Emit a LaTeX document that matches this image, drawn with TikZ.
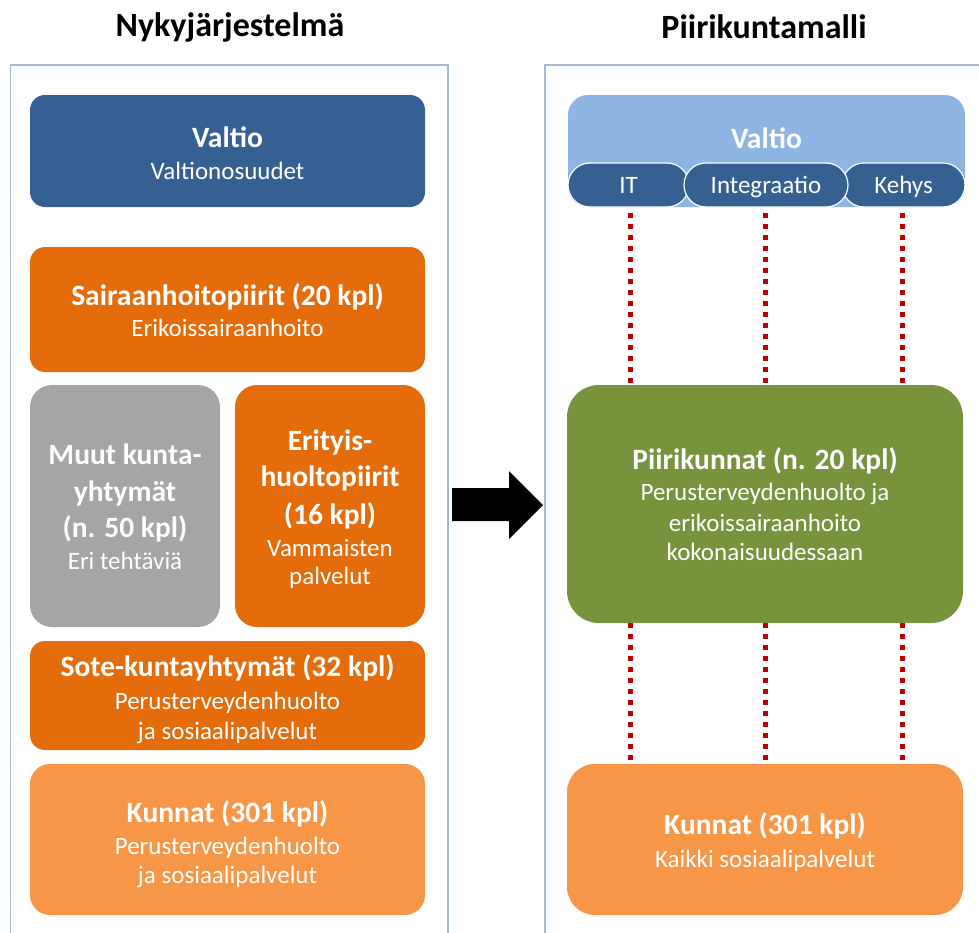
\documentclass[tikz,border=0pt]{standalone}
\usepackage{fontspec}
\setmainfont{Carlito}
\definecolor{dkblue}{HTML}{376092}
\definecolor{ltblue}{HTML}{8EB4E3}
\definecolor{orng}{HTML}{E46C0A}
\definecolor{ltorng}{HTML}{F79646}
\definecolor{grey}{HTML}{A5A5A5}
\definecolor{grn}{HTML}{77933C}
\definecolor{dotred}{HTML}{C00000}
\definecolor{panel}{HTML}{AAB9D2}
\newcommand\hb{\bfseries\fontsize{29.5}{30}\selectfont}
\newcommand\hs{\mdseries\fontsize{25}{30}\selectfont}
\newcommand\lift[1]{\rule{0pt}{#1pt}}
\newcommand\tabstrut{\rule[-6pt]{0pt}{28pt}}
\begin{document}
\begin{tikzpicture}[x=1pt,y=-1pt,
  box/.style={rounded corners=#1, text=white, align=center, inner sep=0pt,
    font=\fontsize{25}{30}\selectfont},
  box/.default=15pt,
  tab/.style={rounded corners=22pt, fill=dkblue, draw=white, line width=1.2pt,
    minimum height=44pt, inner sep=0pt, text=white, font=\fontsize{25}{30}\selectfont},
  heading/.style={font=\bfseries\fontsize{34}{40}\selectfont, inner sep=0pt},
  panelline/.style={draw=panel, line width=1.3pt},
  dots/.style={draw=dotred, line width=5pt, dash pattern=on 5pt off 6pt}]
\useasboundingbox (0,0) rectangle (979,932);

% headings
\node[heading] (h1) at (230,27) {Nykyjärjestelmä};
\node[heading] (h2) at (764,27) {Piirikuntamalli};

% panels
\draw[panelline] (10.5,940) -- (10.5,65) -- (448,65) -- (448,940);
\draw[panelline] (545,940) -- (545,65) -- (990,65);

% left column
\node[box, fill=dkblue, minimum width=395pt, minimum height=112pt] (valtioL) at (227.5,151)
  {\hb\lift{26}Valtio\\[2pt] \hs Valtionosuudet};
\node[box, fill=orng, minimum width=395pt, minimum height=125pt] (sair) at (227.5,309.5)
  {\hb\lift{24}Sairaanhoitopiirit (20 kpl)\\[1pt] \hs Erikoissairaanhoito};
\node[box=22pt, fill=grey, minimum width=190pt, minimum height=242pt] (muut) at (125,506)
  {\hb\lift{23}Muut kunta-\\[7pt] \hb yhtymät\\[6pt] \hb (n. 50 kpl)\\[2pt] \hs Eri tehtäviä};
\node[box=22pt, fill=orng, minimum width=190pt, minimum height=242pt] (erit) at (330,506)
  {\hb\lift{27}Erityis-\\[6pt] \hb huoltopiirit\\[8pt] \hb (16 kpl)\\[2pt] \hs Vammaisten\\[-2pt] \hs palvelut};
\node[box, fill=orng, minimum width=395pt, minimum height=109pt] (sote) at (227.5,695.5)
  {\hb\lift{30}Sote-kuntayhtymät (32 kpl)\\[3pt] \hs Perusterveydenhuolto\\ \hs ja sosiaalipalvelut};
\node[box=20pt, fill=ltorng, minimum width=395pt, minimum height=151pt] (kunnatL) at (227.5,839.5)
  {\hb\lift{32}Kunnat (301 kpl)\\[2pt] \hs Perusterveydenhuolto\\[-1pt] \hs ja sosiaalipalvelut};

% arrow
\fill[black] (452,488) -- (509,488) -- (509,471) -- (543,505) -- (509,539) -- (509,521) -- (452,521) -- cycle;

% right column
\node[box=20pt, fill=ltblue, minimum width=397pt, minimum height=112pt] (valtioR) at (766.5,151) {};
\node[text=white, font=\hb, inner sep=0pt] (valtioRt) at (766.5,138) {Valtio};
\node[tab, minimum width=121pt] (it) at (628.5,185) {\tabstrut IT};
\node[tab, minimum width=123pt] (kehys) at (903.5,185) {\tabstrut Kehys};
\node[tab, minimum width=164pt] (integ) at (766,185) {\tabstrut Integraatio};

\node[box=32pt, fill=grn, minimum width=396pt, minimum height=238pt] (piiri) at (765,504)
  {\hb Piirikunnat (n. 20 kpl)\\[1pt] \hs Perusterveydenhuolto ja\\[1pt] \hs erikoissairaanhoito\\[-1pt] \hs kokonaisuudessaan};
\node[box=28pt, fill=ltorng, minimum width=396pt, minimum height=151pt] (kunnatR) at (765,839.5)
  {\hb\lift{27}Kunnat (301 kpl)\\[3pt] \hs Kaikki sosiaalipalvelut};

% dotted connectors
\foreach \t/\dx in {it/1.5, integ/-1, kehys/-1.5} {
  \draw[dots, shorten <=5pt] ([xshift=\dx pt]\t.south) -- ([xshift=\dx pt]\t.south |- piiri.north);
  \draw[dots] ([xshift=\dx pt]\t.south |- piiri.south) -- ([xshift=\dx pt]\t.south |- kunnatR.north);
}
\end{tikzpicture}
\end{document}
